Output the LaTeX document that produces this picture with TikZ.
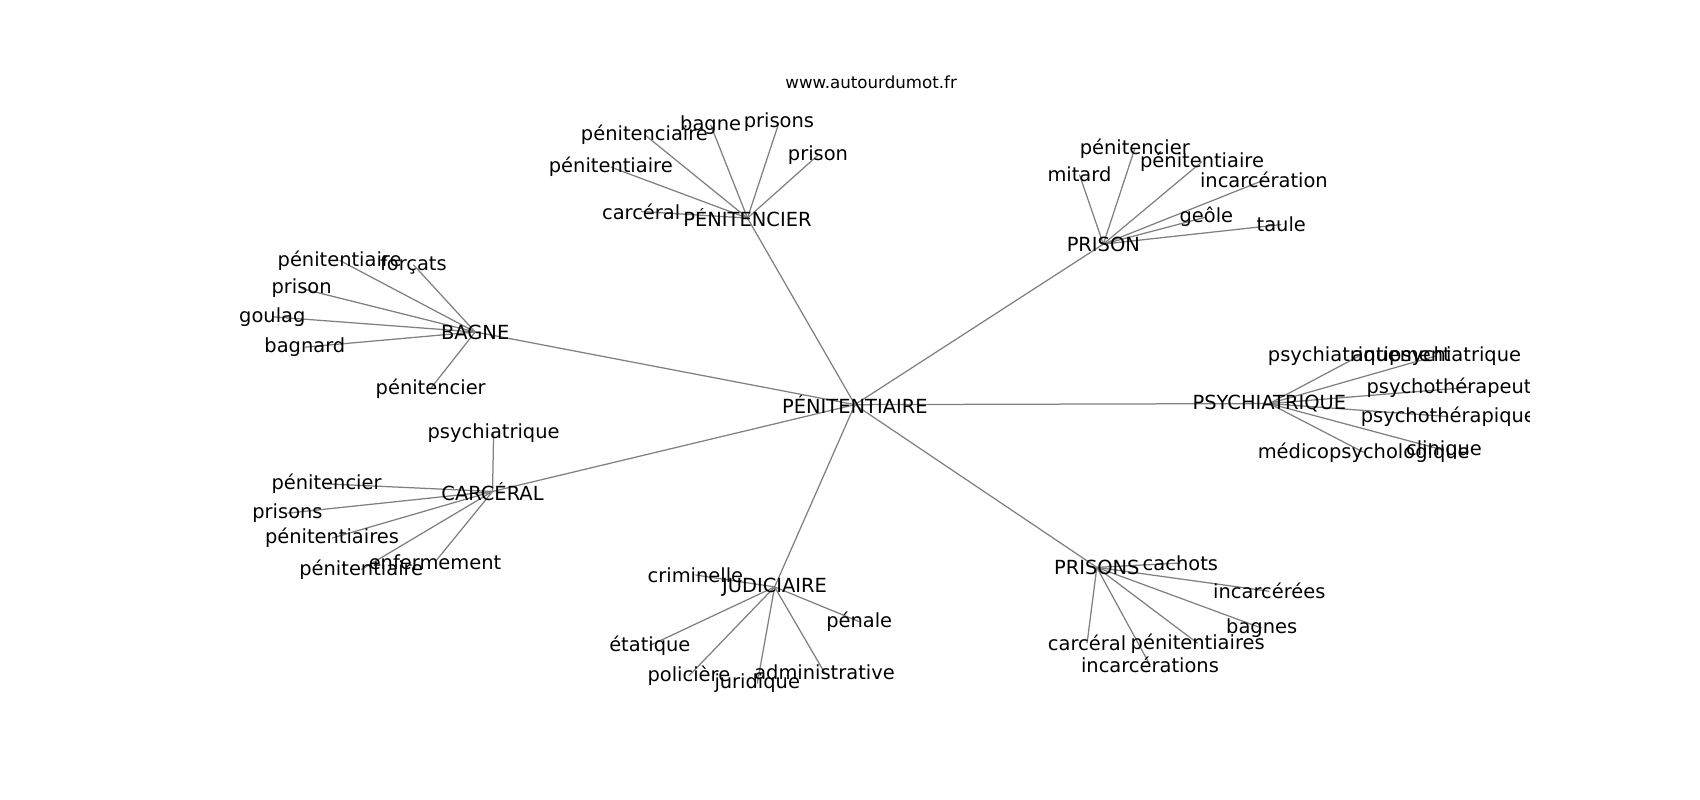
\documentclass[tikz,border=0pt]{standalone}
\usepackage{fontspec}
\setmainfont{DejaVu Sans}
\usetikzlibrary{backgrounds}
\begin{document}
\begin{tikzpicture}[x=0.78111pt,y=-0.78111pt,
  lbl/.style={font=\fontsize{14}{16.5}\selectfont, inner sep=0pt, text=black},
  ttl/.style={font=\fontsize{12}{14}\selectfont, inner sep=0pt, text=black},
  link/.style={draw=black!50, line width=0.9pt}]
\useasboundingbox (0,0) rectangle (1567,737.4);
\node[ttl] (title) at (803,76) {www.autourdumot.fr};
\begin{scope}
\clip (195.9,88.5) rectangle (1410.1,656.2);
\node[lbl] (c) at (788,373) {PÉNITENTIAIRE};
% hubs
\node[lbl] (pen) at (689,201) {PÉNITENCIER};
\node[lbl] (pri) at (1017,225) {PRISON};
\node[lbl] (bag) at (438,306) {BAGNE};
\node[lbl] (car) at (454,453) {CARCÉRAL};
\node[lbl] (jud) at (714,541) {JUDICIAIRE};
\node[lbl] (prs) at (1011,523) {PRISONS};
\node[lbl] (psy) at (1170,372) {PSYCHIATRIQUE};
% PÉNITENCIER
\node[lbl] (pen1) at (594,124) {pénitenciaire};
\node[lbl] (pen2) at (563,154) {pénitentiaire};
\node[lbl] (pen3) at (655,115) {bagne};
\node[lbl] (pen4) at (718,113) {prisons};
\node[lbl] (pen5) at (754,143) {prison};
\node[lbl] (pen6) at (591,195) {carcéral};
% PRISON
\node[lbl] (pri1) at (995,161) {mitard};
\node[lbl] (pri2) at (1046,137) {pénitencier};
\node[lbl] (pri3) at (1108,149) {pénitentiaire};
\node[lbl] (pri4) at (1165,166) {incarcération};
\node[lbl] (pri5) at (1112,200) {geôle};
\node[lbl] (pri6) at (1181,207) {taule};
% BAGNE
\node[lbl] (bag1) at (313,240) {pénitentiaire};
\node[lbl] (bag2) at (381,244) {forçats};
\node[lbl] (bag3) at (278,266) {prison};
\node[lbl] (bag4) at (251,292) {goulag};
\node[lbl] (bag5) at (281,320) {bagnard};
\node[lbl] (bag6) at (397,358) {pénitencier};
% CARCÉRAL
\node[lbl] (car1) at (455,399) {psychiatrique};
\node[lbl] (car2) at (301,446) {pénitencier};
\node[lbl] (car3) at (265,473) {prisons};
\node[lbl] (car4) at (306,496) {pénitentiaires};
\node[lbl] (car5) at (333,525) {pénitentiaire};
\node[lbl] (car6) at (401,518) {enfermement};
% JUDICIAIRE
\node[lbl] (jud1) at (641,530) {criminelle};
\node[lbl] (jud2) at (792,573) {pénale};
\node[lbl] (jud3) at (599,595) {étatique};
\node[lbl] (jud4) at (635,623) {policière};
\node[lbl] (jud5) at (698,630) {juridique};
\node[lbl] (jud6) at (760,620) {administrative};
% PRISONS
\node[lbl] (prs1) at (1088,519) {cachots};
\node[lbl] (prs2) at (1170,545) {incarcérées};
\node[lbl] (prs3) at (1163,579) {bagnes};
\node[lbl] (prs4) at (1002,593) {carcéral};
\node[lbl] (prs5) at (1104,593) {pénitentiaires};
\node[lbl] (prs6) at (1060,613) {incarcérations};
% PSYCHIATRIQUE
\node[lbl] (psy1) at (1253,328) {psychiatriquement};
\node[lbl] (psy2) at (1324,328) {antipsychiatrique};
\node[lbl] (psy3) at (1355,357) {psychothérapeutique};
\node[lbl] (psy4) at (1335,384) {psychothérapique};
\node[lbl] (psy5) at (1257,417) {médicopsychologique};
\node[lbl] (psy6) at (1331,415) {clinique};
\end{scope}
\begin{scope}[on background layer]
\foreach \a/\b in {c/pen,c/pri,c/bag,c/car,c/jud,c/prs,c/psy,
  pen/pen1,pen/pen2,pen/pen3,pen/pen4,pen/pen5,pen/pen6,
  pri/pri1,pri/pri2,pri/pri3,pri/pri4,pri/pri5,pri/pri6,
  bag/bag1,bag/bag2,bag/bag3,bag/bag4,bag/bag5,bag/bag6,
  car/car1,car/car2,car/car3,car/car4,car/car5,car/car6,
  jud/jud1,jud/jud2,jud/jud3,jud/jud4,jud/jud5,jud/jud6,
  prs/prs1,prs/prs2,prs/prs3,prs/prs4,prs/prs5,prs/prs6,
  psy/psy1,psy/psy2,psy/psy3,psy/psy4,psy/psy5,psy/psy6}
  \draw[link] (\a.center) -- (\b.center);
\end{scope}
\end{tikzpicture}
\end{document}
